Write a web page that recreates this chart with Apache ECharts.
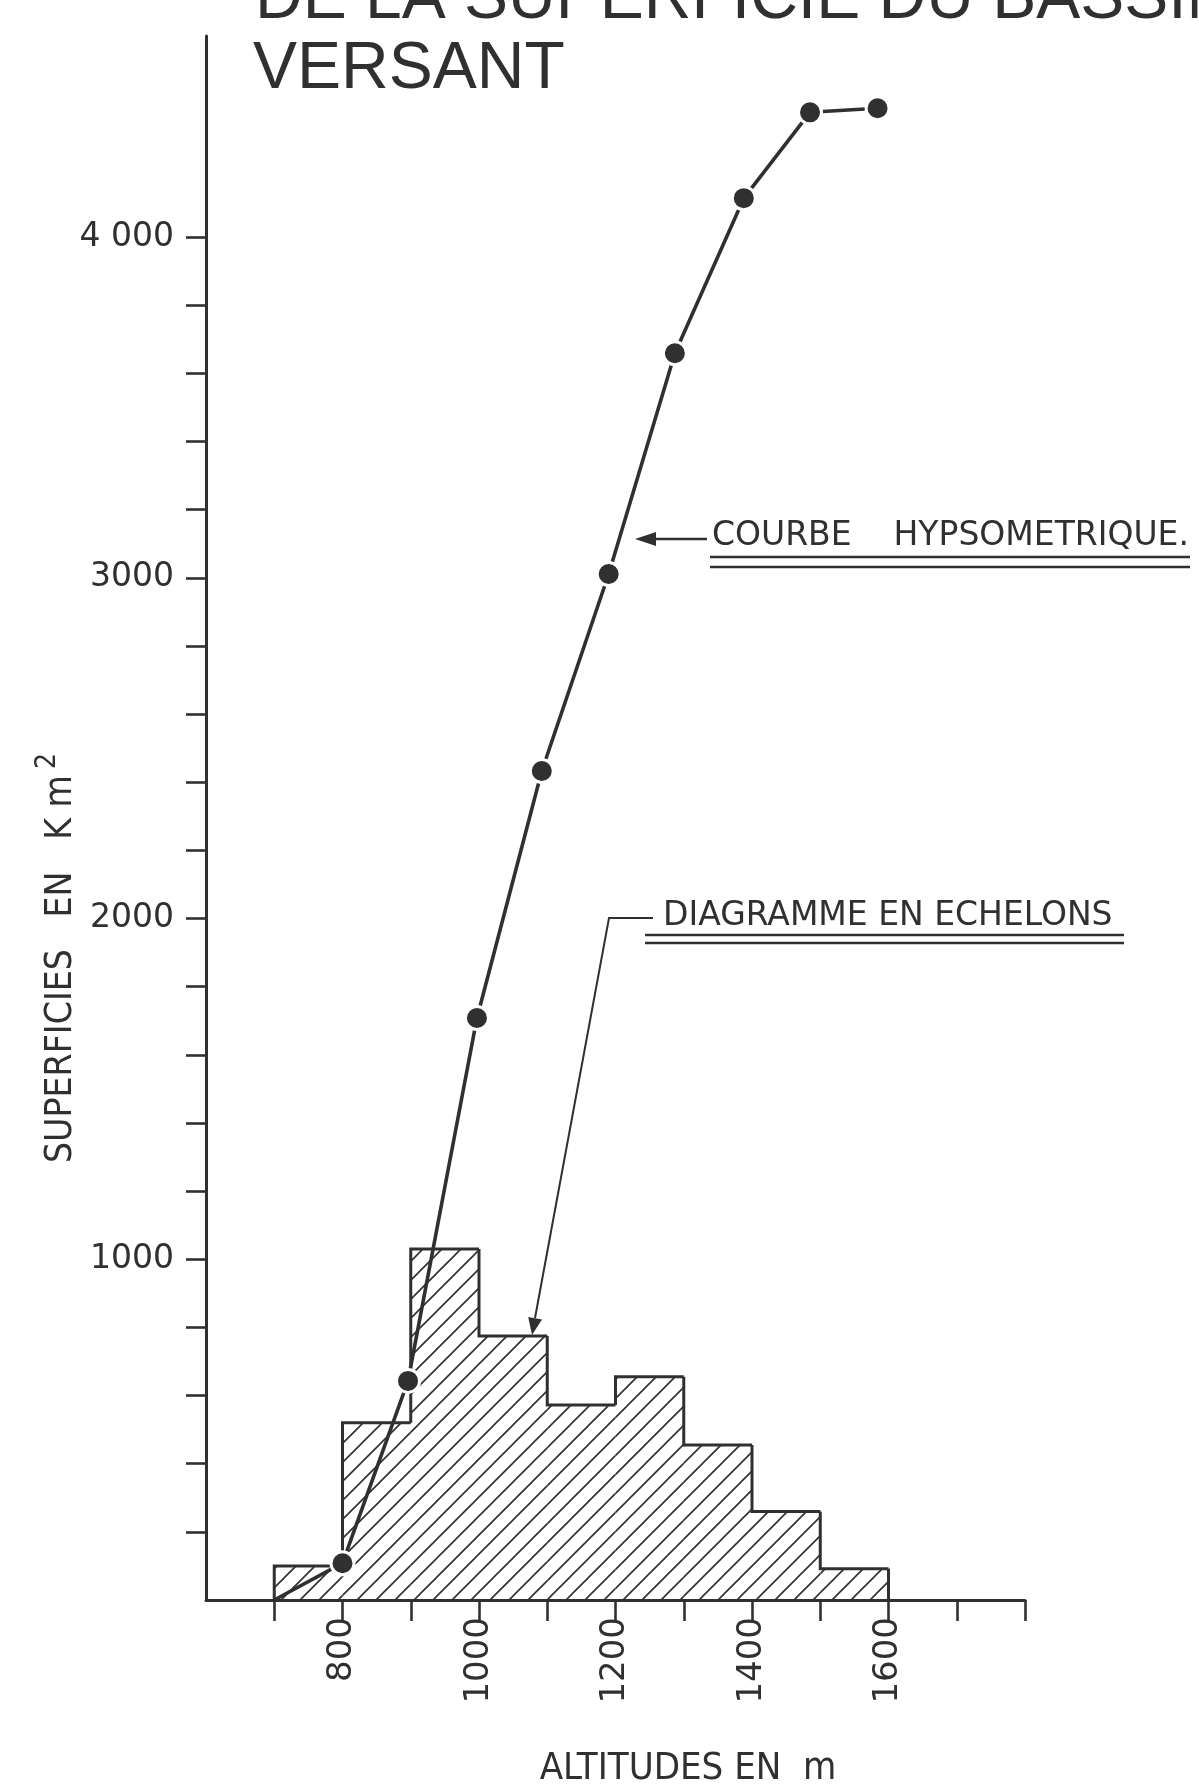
<!DOCTYPE html>
<html>
<head>
<meta charset="utf-8">
<title>Courbe hypsométrique</title>
<script src="https://cdn.jsdelivr.net/npm/echarts@6.0.0/dist/echarts.min.js"></script>
<style>
  html, body { margin: 0; padding: 0; background: #fff; }
  #chart { width: 1199px; height: 1786px; }
</style>
</head>
<body>
<div id="chart"></div>
<script>
// courbe hypsometrique : altitude (m) / superficie cumulee (km2)
const curveAltitudes = [700, 800, 896, 997, 1092, 1190, 1287, 1388, 1485, 1584];
const curveAreas = [0, 108, 643, 1708, 2433, 3011, 3659, 4114, 4366, 4378];

// diagramme en echelons : tranches d'altitude et superficie de chaque tranche
const classStarts = [700, 800, 900, 1000, 1100, 1200, 1300, 1400, 1500];
const classEnds = [800, 900, 1000, 1100, 1200, 1300, 1400, 1500, 1600];
const classAreas = [100, 520, 1030, 775, 572, 655, 455, 260, 92];

// graduations
const xTickValues = [700, 800, 900, 1000, 1100, 1200, 1300, 1400, 1500, 1600, 1700, 1800];
const xLabelValues = [800, 1000, 1200, 1400, 1600];
const yTickValues = [200, 400, 600, 800, 1000, 1200, 1400, 1600, 1800, 2000,
  2200, 2400, 2600, 2800, 3000, 3200, 3400, 3600, 3800, 4000];
const yLabelValues = [1000, 2000, 3000, 4000];
const yLabelTexts = ['1000', '2000', '3000', '4 000'];

const ink = '#303030';

// hachures "/" pour les echelons
function makeHatch() {
  const s = 19;
  const c = document.createElement('canvas');
  c.width = s; c.height = s;
  const g = c.getContext('2d');
  g.strokeStyle = '#303030';
  g.lineWidth = 1.6;
  g.beginPath();
  g.moveTo(-2, s + 2); g.lineTo(s + 2, -2);
  g.moveTo(-2, 2); g.lineTo(2, -2);
  g.moveTo(s - 2, s + 2); g.lineTo(s + 2, s - 2);
  g.stroke();
  return { image: c, repeat: 'repeat' };
}
const hatch = makeHatch();

let chart = echarts.init(document.getElementById('chart'));

const stepData = classStarts.map(function (s, i) { return [s, classEnds[i], classAreas[i]]; });
const curveData = curveAltitudes.map(function (a, i) {
  // le premier point (depart de la courbe) n'a pas de pastille
  return i === 0 ? { value: [a, curveAreas[i]], symbol: 'none' } : [a, curveAreas[i]];
});

let option = {
  backgroundColor: '#ffffff',
  animation: false,
  grid: { left: 206, right: 174, top: 36, bottom: 186 },
  xAxis: {
    type: 'value',
    min: 600,
    max: 1800,
    splitLine: { show: false },
    axisLine: { lineStyle: { color: ink, width: 3 } },
    axisTick: { customValues: xTickValues, length: 21, lineStyle: { color: ink, width: 2.6 } },
    axisLabel: {
      customValues: xLabelValues,
      rotate: 90,
      margin: 17,
      color: ink,
      fontFamily: 'DejaVu Sans',
      fontSize: 34,
      formatter: function (v) { return String(v); }
    }
  },
  yAxis: {
    type: 'value',
    min: 0,
    max: 4590,
    splitLine: { show: false },
    axisLine: { lineStyle: { color: ink, width: 3 } },
    axisTick: { customValues: yTickValues, length: 20, lineStyle: { color: ink, width: 2.6 } },
    axisLabel: {
      customValues: yLabelValues,
      margin: 32,
      color: ink,
      fontFamily: 'DejaVu Sans',
      fontSize: 33,
      formatter: function (v) {
        const k = yLabelValues.indexOf(v);
        return k >= 0 ? yLabelTexts[k] : '';
      }
    }
  },
  series: [
    {
      name: 'DIAGRAMME EN ECHELONS',
      type: 'custom',
      z: 2,
      encode: { x: [0, 1], y: 2 },
      data: stepData,
      renderItem: function (params, api) {
        const i = params.dataIndex;
        const x0 = api.value(0), x1 = api.value(1), h = api.value(2);
        const prev = i > 0 ? classAreas[i - 1] : 0;
        const pBL = api.coord([x0, 0]);
        const pTL = api.coord([x0, h]);
        const pTR = api.coord([x1, h]);
        const pBR = api.coord([x1, 0]);
        const pPrev = api.coord([x0, prev]);
        const children = [
          {
            type: 'rect',
            shape: { x: pBL[0], y: pTR[1], width: pTR[0] - pBL[0], height: pBL[1] - pTR[1] },
            style: { fill: hatch, stroke: null }
          },
          {
            type: 'polyline',
            shape: { points: [pPrev, pTL, pTR] },
            style: { stroke: ink, lineWidth: 3, fill: null }
          }
        ];
        if (i === classAreas.length - 1) {
          children.push({
            type: 'line',
            shape: { x1: pTR[0], y1: pTR[1], x2: pBR[0], y2: pBR[1] },
            style: { stroke: ink, lineWidth: 3 }
          });
        }
        return { type: 'group', children: children };
      }
    },
    {
      name: 'COURBE HYPSOMETRIQUE',
      type: 'line',
      z: 5,
      data: curveData,
      symbol: 'circle',
      symbolSize: 23,
      itemStyle: { color: ink, borderColor: '#ffffff', borderWidth: 3 },
      lineStyle: { color: ink, width: 3.6 }
    }
  ],
  graphic: [
    // titre (coupe en haut)
    { type: 'text', x: 255, y: 0, z: 10,
      style: { text: 'DE LA SUPERFICIE DU BASSIN', fontFamily: 'Liberation Sans', fontSize: 66,
        fill: ink, align: 'left', verticalAlign: 'middle' } },
    { type: 'text', x: 253, y: 70, z: 10,
      style: { text: 'VERSANT', fontFamily: 'Liberation Sans', fontSize: 66,
        fill: ink, align: 'left', verticalAlign: 'middle' } },

    // titre de l'axe vertical
    { type: 'text', x: 57, y: 958, rotation: Math.PI / 2, z: 10,
      style: {
        text: '{a|SUPERFICIES   EN   K m}{s|2}',
        align: 'center', verticalAlign: 'middle',
        rich: {
          a: { fontFamily: 'DejaVu Sans Condensed', fontSize: 37, lineHeight: 46, fill: ink, verticalAlign: 'bottom' },
          s: { fontFamily: 'DejaVu Sans Condensed', fontSize: 28, lineHeight: 46, fill: ink, verticalAlign: 'top', padding: [0, 0, 0, 6] }
        }
      } },
    // titre de l'axe horizontal
    { type: 'text', x: 688, y: 1769, z: 10,
      style: { text: 'ALTITUDES EN  m', fontFamily: 'DejaVu Sans Condensed', fontSize: 38,
        fill: ink, align: 'center', verticalAlign: 'middle' } },

    // legende : courbe hypsometrique
    { type: 'text', x: 712, y: 536, z: 10,
      style: { text: 'COURBE    HYPSOMETRIQUE.', fontFamily: 'DejaVu Sans', fontSize: 33,
        fill: ink, align: 'left', verticalAlign: 'middle' } },
    { type: 'line', z: 10, shape: { x1: 710, y1: 557, x2: 1190, y2: 557 }, style: { stroke: ink, lineWidth: 2.5 } },
    { type: 'line', z: 10, shape: { x1: 710, y1: 567, x2: 1190, y2: 567 }, style: { stroke: ink, lineWidth: 2.5 } },
    { type: 'line', z: 10, shape: { x1: 652, y1: 539, x2: 707, y2: 539 }, style: { stroke: ink, lineWidth: 2.5 } },
    { type: 'polygon', z: 10, shape: { points: [[635, 539], [656, 532], [656, 546]] }, style: { fill: ink } },

    // legende : diagramme en echelons
    { type: 'text', x: 663, y: 916, z: 10,
      style: { text: 'DIAGRAMME EN ECHELONS', fontFamily: 'DejaVu Sans', fontSize: 33,
        fill: ink, align: 'left', verticalAlign: 'middle' } },
    { type: 'line', z: 10, shape: { x1: 645, y1: 935, x2: 1124, y2: 935 }, style: { stroke: ink, lineWidth: 2.5 } },
    { type: 'line', z: 10, shape: { x1: 645, y1: 943, x2: 1124, y2: 943 }, style: { stroke: ink, lineWidth: 2.5 } },
    { type: 'polyline', z: 10, shape: { points: [[653, 918], [609, 918], [535, 1318]] },
      style: { stroke: ink, lineWidth: 2, fill: null } },
    { type: 'polygon', z: 10, shape: { points: [[532, 1335], [542, 1319.6], [528.2, 1317]] }, style: { fill: ink } }
  ]
};

chart.setOption(option);
</script>
</body>
</html>
